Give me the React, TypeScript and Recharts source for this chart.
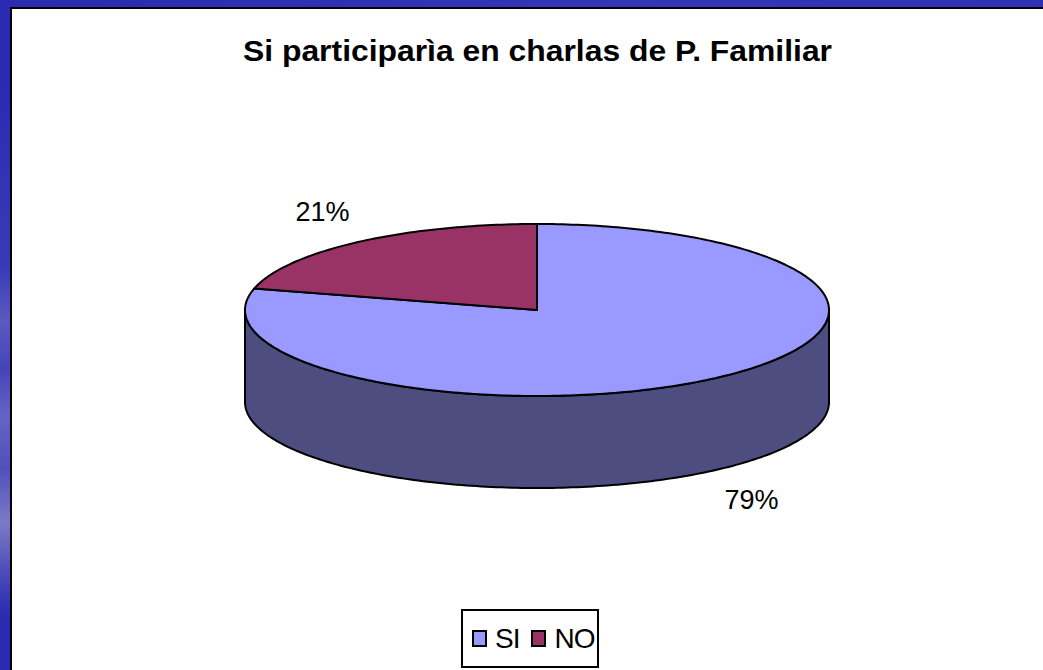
import React from 'react';
import { PieChart, Pie } from 'recharts';

const categories = ['SI', 'NO'];
const values = [79, 21];
const percentLabels = ['79%', '21%'];
const topColors = ['#9999FF', '#993366'];
const sideColors = ['#4D4D80', '#4D1A33'];
const title = 'Si participarìa en charlas de P. Familiar';

const data = categories.map((name, i) => ({
  name,
  value: values[i],
  fill: topColors[i],
  side: sideColors[i],
  pct: percentLabels[i],
}));

const RATIO = 86 / 292;
const DEPTH = 92;
const FONT = '"Liberation Sans", Arial, sans-serif';

function pt(cx: number, cy: number, rx: number, ry: number, deg: number): [number, number] {
  const r = (deg * Math.PI) / 180;
  return [cx + rx * Math.cos(r), cy - ry * Math.sin(r)];
}

function arc(cx: number, cy: number, rx: number, ry: number, a0: number, a1: number) {
  const n = Math.max(2, Math.ceil(Math.abs(a1 - a0)));
  const out: [number, number][] = [];
  for (let i = 0; i <= n; i++) out.push(pt(cx, cy, rx, ry, a0 + ((a1 - a0) * i) / n));
  return out;
}

const toPath = (p: [number, number][]) =>
  p.map((q, i) => `${i === 0 ? 'M' : 'L'}${q[0].toFixed(2)},${q[1].toFixed(2)}`).join(' ') + ' Z';

const TopShape = (props: any) => {
  const { cx, cy, outerRadius, startAngle, endAngle, fill } = props;
  const rx = outerRadius;
  const ry = outerRadius * RATIO;
  const pts: [number, number][] = [[cx, cy], ...arc(cx, cy, rx, ry, startAngle, endAngle)];
  return <path d={toPath(pts)} fill={fill} stroke="#000" strokeWidth={2} strokeLinejoin="round" />;
};

const SideShape = (props: any) => {
  const { cx, cy, outerRadius, startAngle, endAngle } = props;
  const side = props.side ?? props.payload?.side ?? '#444';
  const rx = outerRadius;
  const ry = outerRadius * RATIO;
  const a0 = Math.min(startAngle, endAngle);
  const a1 = Math.max(startAngle, endAngle);
  const paths: string[] = [];
  for (let k = -2; k <= 2; k++) {
    const lo = Math.max(a0, 180 + 360 * k);
    const hi = Math.min(a1, 360 + 360 * k);
    if (hi > lo) {
      const topArc = arc(cx, cy, rx, ry, lo, hi);
      const botArc = arc(cx, cy + DEPTH, rx, ry, hi, lo);
      paths.push(toPath([...topArc, ...botArc]));
    }
  }
  return (
    <g>
      {paths.map((d, i) => (
        <path key={i} d={d} fill={side} stroke="#000" strokeWidth={2} strokeLinejoin="round" />
      ))}
    </g>
  );
};

const renderLabel = (props: any) => {
  const { cx, cy, midAngle, outerRadius, index } = props;
  const rx = outerRadius + 58;
  const ry = outerRadius * RATIO + 38;
  const r = (midAngle * Math.PI) / 180;
  const s = Math.sin(r);
  const x = cx + rx * Math.cos(r);
  const y = cy - ry * s + (s < 0 ? DEPTH : 0);
  return (
    <text
      key={`l-${index}`}
      x={x}
      y={y}
      textAnchor="middle"
      dominantBaseline="central"
      fontFamily={FONT}
      fontSize={27}
      fill="#000"
    >
      {data[index].pct}
    </text>
  );
};

export default function App() {
  return (
    <div
      style={{
        position: 'absolute',
        left: 0,
        top: 0,
        width: 1043,
        height: 670,
        background: '#fff',
        overflow: 'hidden',
        fontFamily: FONT,
      }}
    >
      {/* frame */}
      <div
        style={{
          position: 'absolute',
          left: 0,
          top: 0,
          width: 1043,
          height: 7,
          background: 'linear-gradient(90deg,#2a2ab0,#3535b8 60%,#3030b4)',
        }}
      />
      <div
        style={{
          position: 'absolute',
          left: 0,
          top: 0,
          width: 10,
          height: 670,
          background:
            'linear-gradient(180deg,#2a2ab2 0%,#2a2ab2 12%,#3a3ab8 40%,#5a5ac0 48%,#4444b8 55%,#6464c4 62%,#5050bc 70%,#7a7ac8 78%,#4848b8 86%,#2a2ab0 92%,#2a2ab0 100%)',
        }}
      />
      <div style={{ position: 'absolute', left: 10, top: 7, width: 1033, height: 2, background: '#000' }} />
      <div style={{ position: 'absolute', left: 10, top: 7, width: 2, height: 663, background: '#000' }} />

      {/* title */}
      <svg style={{ position: 'absolute', left: 0, top: 0 }} width={1043} height={100}>
        <text
          x={537.5}
          y={61}
          textAnchor="middle"
          fontFamily={FONT}
          fontWeight="bold"
          fontSize={29}
          textLength={589}
          lengthAdjust="spacingAndGlyphs"
          fill="#000"
        >
          {title}
        </text>
      </svg>

      <PieChart width={1043} height={670} style={{ position: 'absolute', left: 0, top: 0 }} margin={{ top: 0, right: 0, bottom: 0, left: 0 }}>
        <Pie
          data={data}
          dataKey="value"
          nameKey="name"
          cx={537}
          cy={310}
          outerRadius={292}
          startAngle={90}
          endAngle={-270}
          isAnimationActive={false}
          legendType="none"
          shape={SideShape}
          activeShape={SideShape}
          label={false}
          labelLine={false}
        />
        <Pie
          data={data}
          dataKey="value"
          nameKey="name"
          cx={537}
          cy={310}
          outerRadius={292}
          startAngle={90}
          endAngle={-270}
          isAnimationActive={false}
          shape={TopShape}
          activeShape={TopShape}
          label={renderLabel}
          labelLine={false}
        />
      </PieChart>

      {/* legend */}
      <div
        style={{
          position: 'absolute',
          left: 461,
          top: 609,
          width: 138,
          height: 59,
          boxSizing: 'border-box',
          border: '2px solid #000',
          background: '#fff',
          display: 'flex',
          alignItems: 'center',
          paddingLeft: 9,
        }}
      >
        {data.map((d, i) => (
          <div key={d.name} style={{ display: 'flex', alignItems: 'center', marginRight: i === 0 ? 12 : 0 }}>
            <div
              style={{
                width: 15,
                height: 17,
                boxSizing: 'border-box',
                border: '2px solid #000',
                background: d.fill,
                marginRight: 8,
              }}
            />
            <span style={{ fontSize: 28, lineHeight: '30px', color: '#000', letterSpacing: -1 }}>{d.name}</span>
          </div>
        ))}
      </div>
    </div>
  );
}
